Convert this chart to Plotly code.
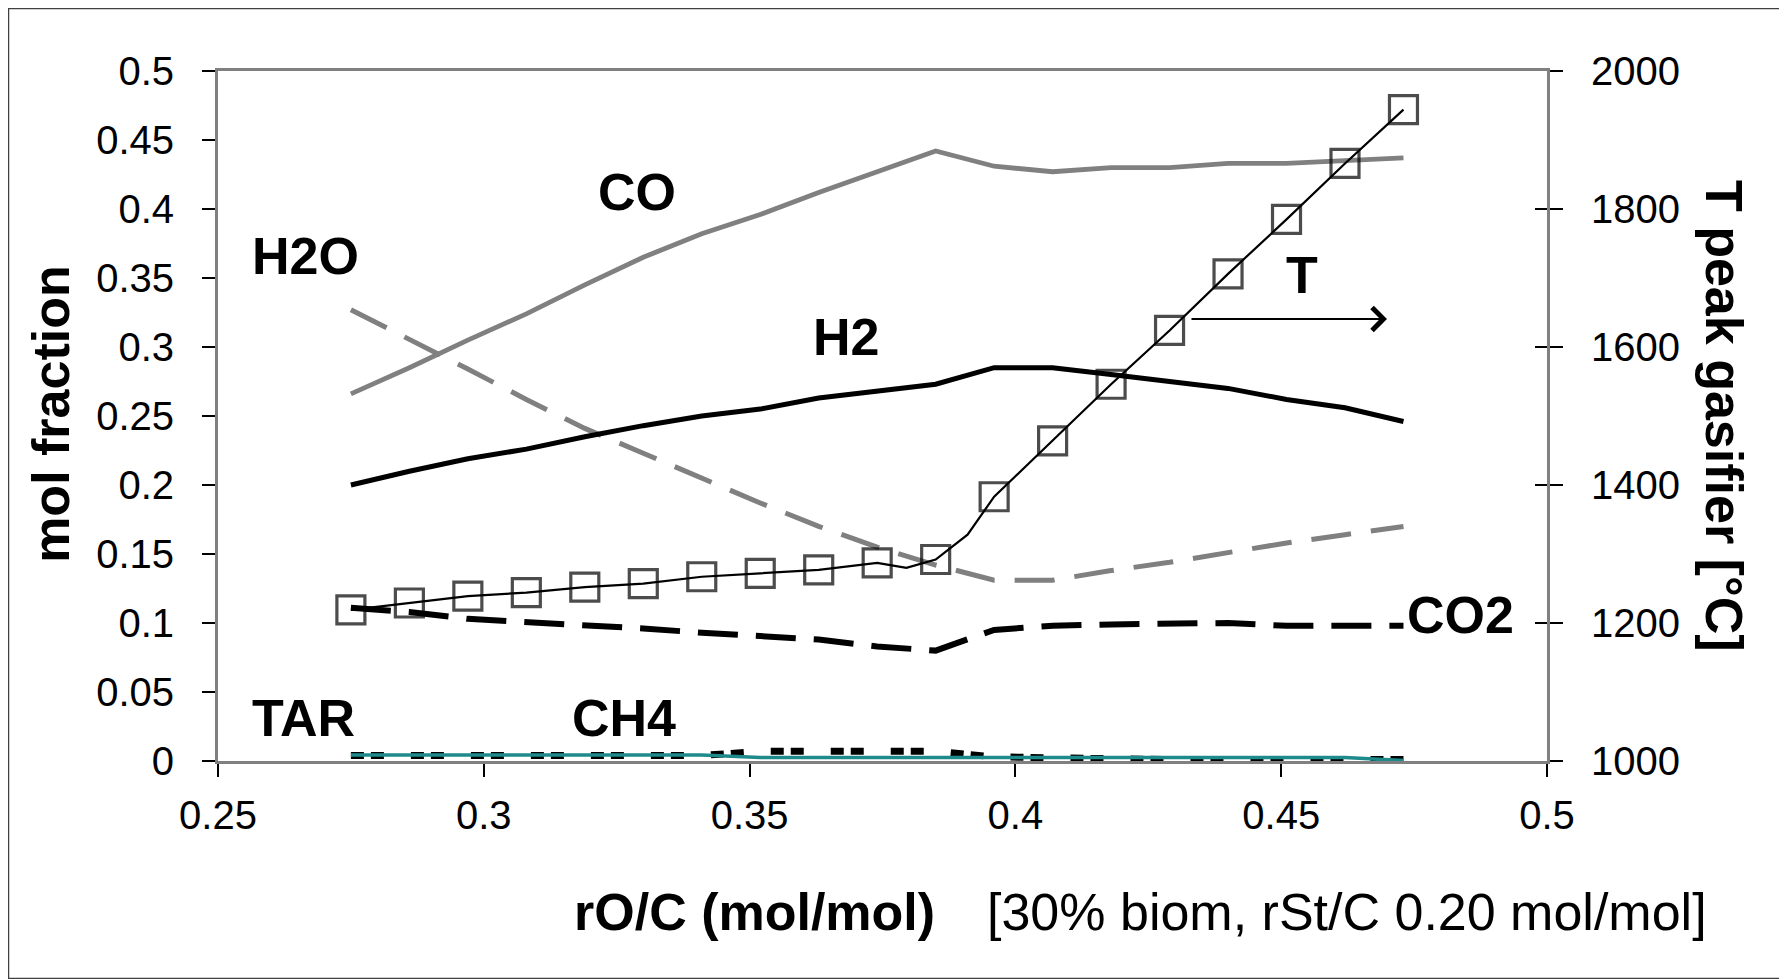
import plotly.graph_objects as go

# ---- data ----
x_grid = [0.275, 0.286, 0.297, 0.308, 0.319, 0.330, 0.341, 0.352, 0.363, 0.374,
          0.385, 0.396, 0.407, 0.418, 0.429, 0.440, 0.451, 0.462, 0.473]

co = [0.266, 0.285, 0.305, 0.324, 0.345, 0.365, 0.382, 0.396, 0.412, 0.427,
      0.442, 0.431, 0.427, 0.430, 0.430, 0.433, 0.433, 0.435, 0.437]
h2 = [0.200, 0.210, 0.219, 0.226, 0.235, 0.243, 0.250, 0.255, 0.263, 0.268,
      0.273, 0.285, 0.285, 0.280, 0.275, 0.270, 0.262, 0.256, 0.246]
h2o = [0.327, 0.306, 0.284, 0.262, 0.241, 0.223, 0.205, 0.187, 0.170, 0.155,
       0.142, 0.131, 0.131, 0.138, 0.144, 0.151, 0.158, 0.164, 0.170]
co2 = [0.111, 0.108, 0.103, 0.101, 0.099, 0.096, 0.093, 0.091, 0.088, 0.083,
       0.080, 0.095, 0.098, 0.099, 0.100, 0.100, 0.098, 0.098, 0.098]
tar = [0.004, 0.004, 0.004, 0.004, 0.004, 0.004, 0.004, 0.007, 0.007, 0.007,
       0.007, 0.003, 0.002, 0.002, 0.001, 0.001, 0.001, 0.001, 0.001]
ch4 = [0.0043, 0.0043, 0.0043, 0.0043, 0.0043, 0.0043, 0.0043, 0.0025, 0.0025, 0.0025,
       0.0025, 0.0025, 0.0025, 0.0025, 0.0025, 0.0025, 0.0025, 0.0025, 0.0003]

# peak temperature (right axis); two extra vertices of the line carry no marker
t_x = [0.275, 0.286, 0.297, 0.308, 0.319, 0.330, 0.341, 0.352, 0.363, 0.374,
       0.3795, 0.385, 0.391, 0.396, 0.407, 0.418, 0.429, 0.440, 0.451, 0.462, 0.473]
t_peak = [1219, 1229, 1239, 1244, 1252, 1257, 1267, 1272, 1277, 1287,
          1280, 1292, 1328, 1383, 1464, 1546, 1624, 1706, 1785, 1866, 1944]

y_ticks = [0, 0.05, 0.1, 0.15, 0.2, 0.25, 0.3, 0.35, 0.4, 0.45, 0.5]
y_ticktext = ["0", "0.05", "0.1", "0.15", "0.2", "0.25", "0.3", "0.35", "0.4", "0.45", "0.5"]
x_ticks = [0.25, 0.3, 0.35, 0.4, 0.45, 0.5]
x_ticktext = ["0.25", "0.3", "0.35", "0.4", "0.45", "0.5"]
t_ticks = [1000, 1200, 1400, 1600, 1800, 2000]

# ---- figure ----
GRAY = "#808080"
FONT = "Liberation Sans, Arial, sans-serif"

fig = go.Figure()
fig.add_trace(go.Scatter(x=x_grid, y=co, mode="lines", name="CO",
                         line=dict(color=GRAY, width=4.8)))
fig.add_trace(go.Scatter(x=x_grid, y=h2o, mode="lines", name="H2O",
                         line=dict(color=GRAY, width=5, dash="40px,20px")))
fig.add_trace(go.Scatter(x=x_grid, y=h2, mode="lines", name="H2",
                         line=dict(color="black", width=5)))
fig.add_trace(go.Scatter(x=x_grid, y=co2, mode="lines", name="CO2",
                         line=dict(color="black", width=6, dash="40px,18px")))
fig.add_trace(go.Scatter(x=x_grid, y=tar, mode="lines", name="TAR",
                         line=dict(color="black", width=7, dash="13px,7px,13px,27px")))
fig.add_trace(go.Scatter(x=x_grid, y=ch4, mode="lines", name="CH4",
                         line=dict(color="#1f8a8a", width=3.5)))
marker_sizes = [28 if xv in x_grid else 0 for xv in t_x]
fig.add_trace(go.Scatter(x=t_x, y=t_peak, mode="lines+markers", name="T", yaxis="y2",
                         line=dict(color="black", width=2.2),
                         marker=dict(symbol="square-open", size=marker_sizes,
                                     color="black", line=dict(width=3.2, color="black"))))
# invisible trace to carry the inner half of the right-axis cross ticks
fig.add_trace(go.Scatter(x=[x_grid[0]], y=[t_peak[0]], yaxis="y3", mode="markers",
                         marker=dict(opacity=0), hoverinfo="skip"))

tickfont = dict(family=FONT, size=40, color="black")

# the page body adds an 8px offset, so the figure is 8px smaller and margins shifted
fig.update_layout(
    width=1779, height=971,
    margin=dict(l=210, r=240, t=63, b=218, pad=0),
    paper_bgcolor="white", plot_bgcolor="white",
    showlegend=False,
    xaxis=dict(range=[0.25, 0.5], tickvals=x_ticks, ticktext=x_ticktext,
               showgrid=False, zeroline=False, showline=True, linecolor=GRAY,
               linewidth=3, mirror=True, ticks="outside", ticklen=13,
               tickcolor="black", tickwidth=1.5, tickfont=tickfont,
               ticklabelstandoff=4),
    yaxis=dict(range=[0, 0.5], tickvals=y_ticks, ticktext=y_ticktext,
               showgrid=False, zeroline=False, showline=True, linecolor=GRAY,
               linewidth=3, ticks="outside", ticklen=13, tickcolor="black",
               tickwidth=1.5, tickfont=tickfont, ticklabelstandoff=20),
    yaxis2=dict(range=[1000, 2000], tickvals=t_ticks, overlaying="y", side="right",
                showgrid=False, zeroline=False, showline=True, linecolor=GRAY,
                linewidth=3, ticks="outside", ticklen=13, tickcolor="black",
                tickwidth=1.5, tickfont=tickfont, ticklabelstandoff=20),
    yaxis3=dict(range=[1000, 2000], tickvals=t_ticks, overlaying="y", side="right",
                showgrid=False, zeroline=False, showline=False, showticklabels=False,
                ticks="inside", ticklen=12, tickcolor="black", tickwidth=1.5),
)

def label(text, x, y, size=52):
    fig.add_annotation(x=x, y=y, xref="x", yref="y", text="<b>%s</b>" % text,
                       showarrow=False, font=dict(family=FONT, size=size, color="black"),
                       xanchor="center", yanchor="middle")

label("CO", 0.3289, 0.4123)
label("H2O", 0.2664, 0.366)
label("H2", 0.3682, 0.3072)
label("T", 0.4539, 0.3522)
label("CO2", 0.4838, 0.1058)
label("TAR", 0.2660, 0.0312)
label("CH4", 0.3263, 0.0312)

# arrow pointing to the right axis
fig.add_annotation(x=0.4699, y=0.3203, xref="x", yref="y", ax=-197, ay=0,
                   axref="pixel", ayref="pixel", text="", showarrow=True,
                   arrowhead=4, arrowsize=2.2, arrowwidth=2, arrowcolor="black")

# axis titles
def title(text, x, y, angle=0):
    fig.add_annotation(x=x, y=y, xref="paper", yref="paper", text=text,
                       textangle=angle, showarrow=False, xanchor="center",
                       yanchor="middle", font=dict(family=FONT, size=52, color="black"))

title("<b>mol fraction</b>", -0.1257, 0.503, -90)
title("<b>T peak gasifier [°C]</b>", 1.1332, 0.5, 90)
title("<b>rO/C (mol/mol)</b>", 0.404, -0.2188)
title("[30% biom, rSt/C 0.20 mol/mol]", 0.8495, -0.2188)

# outer frame of the picture
fig.add_shape(type="rect", xref="paper", yref="paper",
              x0=(0.5 - 210) / 1329, x1=(1778 - 210) / 1329,
              y0=(690 + 63 - 970.5) / 690, y1=(690 + 63 - 0.5) / 690,
              line=dict(color="#404040", width=1.5), layer="below")

fig.write_html("out.html")
